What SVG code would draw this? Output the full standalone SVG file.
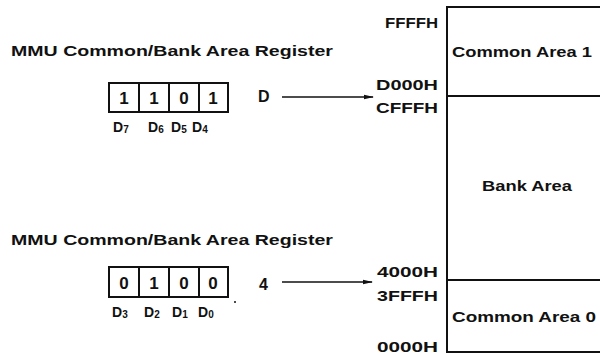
<svg xmlns="http://www.w3.org/2000/svg" width="600" height="354" viewBox="0 0 600 354">
<style>
text{font-family:"Liberation Sans",Arial,sans-serif;fill:#111;font-weight:bold}
.t{font-size:15px}
.a{font-size:15px;text-anchor:end}
.dg{font-size:17px;text-anchor:middle}
.d{font-size:14px}
.s{font-size:10px}
.box{fill:none;stroke:#111;stroke-width:2}
.ln{stroke:#111;stroke-width:2;fill:none}
.cn{stroke:#111;stroke-width:1.4;fill:none}
</style>
<defs>
<marker id="ah" markerWidth="10" markerHeight="6" refX="9" refY="3" orient="auto" markerUnits="userSpaceOnUse">
<path d="M0,0.8 L10,3 L0,5.2 Z" fill="#111"/>
</marker>
</defs>
<rect width="600" height="354" fill="#fff"/>

<g id="register-upper">
<text class="t" x="11" y="56" textLength="322" lengthAdjust="spacingAndGlyphs">MMU Common/Bank Area Register</text>
<rect class="box" x="109" y="83" width="119" height="29"/>
<line class="ln" x1="139" y1="83" x2="139" y2="112"/>
<line class="ln" x1="169" y1="83" x2="169" y2="112"/>
<line class="ln" x1="199" y1="83" x2="199" y2="112"/>
<text class="dg" x="124" y="104">1</text>
<text class="dg" x="154" y="104">1</text>
<text class="dg" x="184" y="104">0</text>
<text class="dg" x="213" y="104">1</text>
<text class="d" x="113" y="132">D<tspan class="s" dy="1">7</tspan></text>
<text class="d" x="148" y="132">D<tspan class="s" dy="1">6</tspan></text>
<text class="d" x="171" y="132">D<tspan class="s" dy="1">5</tspan></text>
<text class="d" x="192" y="132">D<tspan class="s" dy="1">4</tspan></text>
<text class="d" x="258" y="102" style="font-size:16px">D</text>
</g>

<g id="register-lower">
<text class="t" x="11" y="245" textLength="322" lengthAdjust="spacingAndGlyphs">MMU Common/Bank Area Register</text>
<rect class="box" x="109" y="267" width="119" height="30"/>
<line class="ln" x1="139" y1="267" x2="139" y2="297"/>
<line class="ln" x1="169" y1="267" x2="169" y2="297"/>
<line class="ln" x1="199" y1="267" x2="199" y2="297"/>
<text class="dg" x="124" y="289">0</text>
<text class="dg" x="154" y="289">1</text>
<text class="dg" x="184" y="289">0</text>
<text class="dg" x="213" y="289">0</text>
<text class="d" x="112" y="317">D<tspan class="s" dy="1">3</tspan></text>
<text class="d" x="144" y="317">D<tspan class="s" dy="1">2</tspan></text>
<text class="d" x="172" y="317">D<tspan class="s" dy="1">1</tspan></text>
<text class="d" x="198" y="317">D<tspan class="s" dy="1">0</tspan></text>
<circle cx="235" cy="302" r="1" fill="#111"/>
<text class="d" x="259" y="290" style="font-size:16px">4</text>
</g>

<g id="memory-map">
<path class="ln" d="M600,7 H447 V352 H600"/>
<line class="ln" x1="447" y1="96" x2="600" y2="96"/>
<line class="ln" x1="447" y1="280" x2="600" y2="280"/>
<text class="a" x="438" y="28" textLength="53" lengthAdjust="spacingAndGlyphs">FFFFH</text>
<text class="a" x="438" y="90" textLength="62" lengthAdjust="spacingAndGlyphs">D000H</text>
<text class="a" x="438" y="113" textLength="62" lengthAdjust="spacingAndGlyphs">CFFFH</text>
<text class="a" x="438" y="277" textLength="61" lengthAdjust="spacingAndGlyphs">4000H</text>
<text class="a" x="438" y="301" textLength="61" lengthAdjust="spacingAndGlyphs">3FFFH</text>
<text class="a" x="438" y="352" textLength="61" lengthAdjust="spacingAndGlyphs">0000H</text>
</g>

<g id="common-area-1">
<text class="t" x="452" y="57" textLength="140" lengthAdjust="spacingAndGlyphs">Common Area 1</text>
</g>
<g id="bank-area">
<text class="t" x="482" y="191" textLength="90" lengthAdjust="spacingAndGlyphs">Bank Area</text>
</g>
<g id="common-area-0">
<text class="t" x="452" y="322" textLength="144" lengthAdjust="spacingAndGlyphs">Common Area 0</text>
</g>

<g id="connectors">
<line class="cn" x1="282" y1="97" x2="373" y2="97" marker-end="url(#ah)"/>
<line class="cn" x1="282" y1="282" x2="372" y2="282" marker-end="url(#ah)"/>
</g>
</svg>
